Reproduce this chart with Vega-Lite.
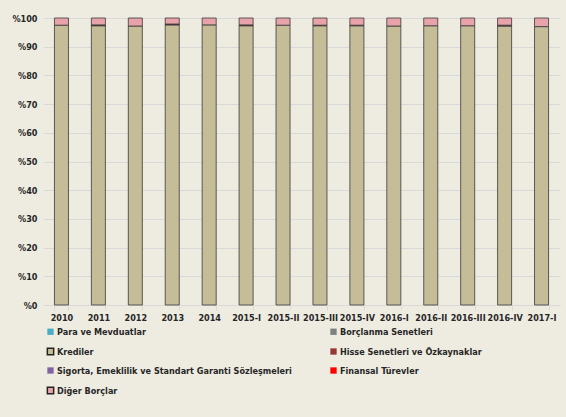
{
  "$schema": "https://vega.github.io/schema/vega-lite/v6.json",
  "width": 517,
  "height": 287,
  "autosize": "none",
  "padding": {"left": 43, "top": 18, "right": 6, "bottom": 112},
  "background": "#EEECE1",
  "config": {
    "view": {"stroke": null},
    "font": "DejaVu Sans Condensed, Lato",
    "axis": {"labelFont": "DejaVu Sans Condensed, Lato", "labelFontWeight": "bold", "labelFontSize": 9, "labelColor": "#262626"},
    "legend": {"labelFont": "DejaVu Sans Condensed, Lato", "labelFontWeight": "bold", "labelFontSize": 9, "labelColor": "#262626"}
  },
  "data": {
    "values": [
      {"d": "2010", "s": "Krediler", "v": 97.5}, {"d": "2010", "s": "Diğer Borçlar", "v": 2.5},
      {"d": "2011", "s": "Krediler", "v": 97.3}, {"d": "2011", "s": "Hisse Senetleri ve Özkaynaklar", "v": 0.3}, {"d": "2011", "s": "Diğer Borçlar", "v": 2.4},
      {"d": "2012", "s": "Krediler", "v": 97.2}, {"d": "2012", "s": "Diğer Borçlar", "v": 2.8},
      {"d": "2013", "s": "Krediler", "v": 97.6}, {"d": "2013", "s": "Hisse Senetleri ve Özkaynaklar", "v": 0.3}, {"d": "2013", "s": "Diğer Borçlar", "v": 2.1},
      {"d": "2014", "s": "Krediler", "v": 97.6}, {"d": "2014", "s": "Diğer Borçlar", "v": 2.4},
      {"d": "2015-I", "s": "Krediler", "v": 97.3}, {"d": "2015-I", "s": "Hisse Senetleri ve Özkaynaklar", "v": 0.3}, {"d": "2015-I", "s": "Diğer Borçlar", "v": 2.4},
      {"d": "2015-II", "s": "Krediler", "v": 97.5}, {"d": "2015-II", "s": "Diğer Borçlar", "v": 2.5},
      {"d": "2015-III", "s": "Krediler", "v": 97.3}, {"d": "2015-III", "s": "Hisse Senetleri ve Özkaynaklar", "v": 0.2}, {"d": "2015-III", "s": "Diğer Borçlar", "v": 2.5},
      {"d": "2015-IV", "s": "Krediler", "v": 97.3}, {"d": "2015-IV", "s": "Hisse Senetleri ve Özkaynaklar", "v": 0.2}, {"d": "2015-IV", "s": "Diğer Borçlar", "v": 2.5},
      {"d": "2016-I", "s": "Krediler", "v": 97.2}, {"d": "2016-I", "s": "Diğer Borçlar", "v": 2.8},
      {"d": "2016-II", "s": "Krediler", "v": 97.3}, {"d": "2016-II", "s": "Diğer Borçlar", "v": 2.7},
      {"d": "2016-III", "s": "Krediler", "v": 97.3}, {"d": "2016-III", "s": "Diğer Borçlar", "v": 2.7},
      {"d": "2016-IV", "s": "Krediler", "v": 97.2}, {"d": "2016-IV", "s": "Hisse Senetleri ve Özkaynaklar", "v": 0.3}, {"d": "2016-IV", "s": "Diğer Borçlar", "v": 2.5},
      {"d": "2017-I", "s": "Krediler", "v": 97.0}, {"d": "2017-I", "s": "Diğer Borçlar", "v": 3.0}
    ]
  },
  "mark": {"type": "bar", "stroke": "#3a3a3a", "strokeWidth": 1, "strokeOpacity": 0.8},
  "encoding": {
    "x": {
      "field": "d", "type": "nominal", "sort": null, "title": null,
      "scale": {"paddingInner": 0.62, "paddingOuter": 0.31},
      "axis": {"labelAngle": 0, "domainColor": "#D9D9D9", "tickColor": "#D9D9D9", "tickBand": "extent", "labelPadding": 3, "ticks": true}
    },
    "y": {
      "field": "v", "type": "quantitative", "stack": "zero", "title": null,
      "scale": {"domain": [0, 100]},
      "axis": {"values": [0,10,20,30,40,50,60,70,80,90,100], "labelExpr": "'%' + datum.value", "domain": false, "ticks": false, "gridColor": "#D9D9D9", "labelPadding": 6}
    },
    "color": {
      "field": "s", "type": "nominal", "title": null,
      "sort": ["Para ve Mevduatlar", "Borçlanma Senetleri", "Krediler", "Hisse Senetleri ve Özkaynaklar", "Sigorta, Emeklilik ve Standart Garanti Sözleşmeleri", "Finansal Türevler", "Diğer Borçlar"],
      "scale": {
        "domain": ["Para ve Mevduatlar", "Borçlanma Senetleri", "Krediler", "Hisse Senetleri ve Özkaynaklar", "Sigorta, Emeklilik ve Standart Garanti Sözleşmeleri", "Finansal Türevler", "Diğer Borçlar"],
        "range": ["#4BACC6", "#7F7F7F", "#C4BD97", "#953735", "#8064A2", "#FF0000", "#E8A3AA"]
      },
      "legend": {
        "orient": "none", "legendX": 3, "legendY": 309, "columns": 2, "direction": "horizontal",
        "columnPadding": 37, "rowPadding": 8, "symbolType": "square", "symbolSize": 40,
        "labelOffset": 2, "labelLimit": 300,
        "symbolStrokeColor": {"expr": "'#222222'"},
        "encode": {"symbols": {"update": {
          "strokeOpacity": {"signal": "(datum.label === 'Krediler' || datum.label === 'Diğer Borçlar') ? 1 : 0"}
        }}}
      }
    }
  }
}
